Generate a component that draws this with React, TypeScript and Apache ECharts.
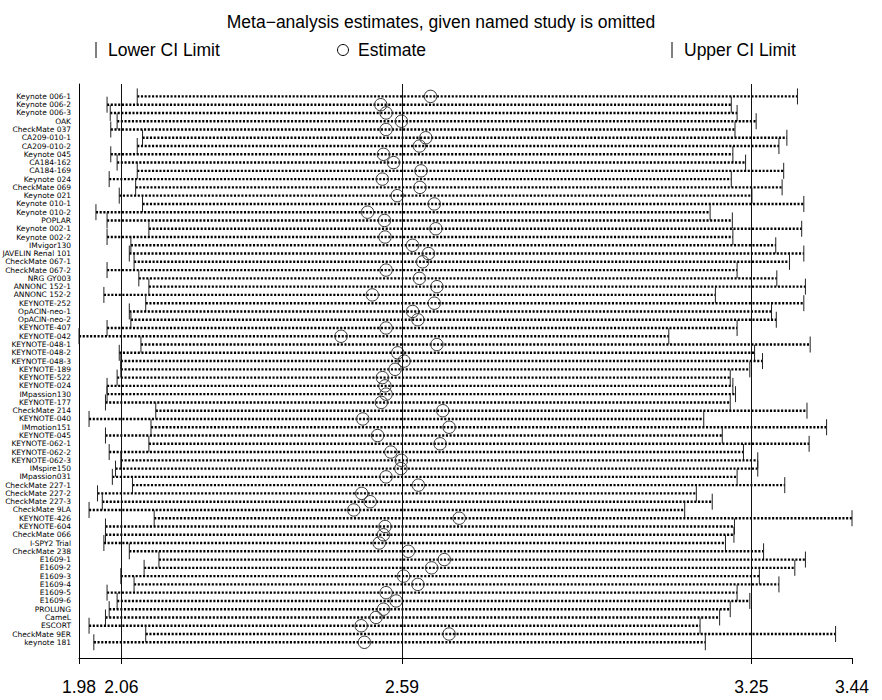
import React, { useEffect, useRef } from "react";
import * as echarts from "echarts";

const studies = [
  "Keynote 006-1", "Keynote 006-2", "Keynote 006-3", "OAK", "CheckMate 037",
  "CA209-010-1", "CA209-010-2", "Keynote 045", "CA184-162", "CA184-169",
  "Keynote 024", "CheckMate 069", "Keynote 021", "Keynote 010-1", "Keynote 010-2",
  "POPLAR", "Keynote 002-1", "Keynote 002-2", "IMvigor130", "JAVELIN Renal 101",
  "CheckMate 067-1", "CheckMate 067-2", "NRG GY003", "ANNONC 152-1", "ANNONC 152-2",
  "KEYNOTE-252", "OpACIN-neo-1", "OpACIN-neo-2", "KEYNOTE-407", "KEYNOTE-042",
  "KEYNOTE-048-1", "KEYNOTE-048-2", "KEYNOTE-048-3", "KEYNOTE-189", "KEYNOTE-522",
  "KEYNOTE-024", "IMpassion130", "KEYNOTE-177", "CheckMate 214", "KEYNOTE-040",
  "IMmotion151", "KEYNOTE-045", "KEYNOTE-062-1", "KEYNOTE-062-2", "KEYNOTE-062-3",
  "IMspire150", "IMpassion031", "CheckMate 227-1", "CheckMate 227-2", "CheckMate 227-3",
  "CheckMate 9LA", "KEYNOTE-426", "KEYNOTE-604", "CheckMate 066", "I-SPY2 Trial",
  "CheckMate 238", "E1609-1", "E1609-2", "E1609-3", "E1609-4",
  "E1609-5", "E1609-6", "PROLUNG", "CameL", "ESCORT",
  "CheckMate 9ER", "keynote 181",
];

const lowerCI = [
  2.090, 2.033, 2.039, 2.052, 2.040, 2.100, 2.090, 2.040, 2.052, 2.090,
  2.037, 2.087, 2.056, 2.100, 2.012, 2.033, 2.112, 2.033, 2.078, 2.075,
  2.084, 2.033, 2.093, 2.112, 2.027, 2.106, 2.075, 2.078, 2.033, 1.980,
  2.097, 2.056, 2.059, 2.059, 2.052, 2.033, 2.033, 2.030, 2.125, 1.999,
  2.116, 2.030, 2.112, 2.037, 2.059, 2.049, 2.043, 2.081, 2.015, 2.024,
  1.999, 2.122, 2.030, 2.030, 2.027, 2.075, 2.131, 2.103, 2.059, 2.084,
  2.033, 2.052, 2.037, 2.030, 1.999, 2.106, 2.008,
];

const estimate = [
  2.644, 2.550, 2.560, 2.589, 2.560, 2.635, 2.623, 2.555, 2.574, 2.626,
  2.553, 2.624, 2.581, 2.651, 2.525, 2.557, 2.654, 2.558, 2.610, 2.640,
  2.629, 2.560, 2.623, 2.656, 2.534, 2.651, 2.610, 2.620, 2.560, 2.475,
  2.656, 2.582, 2.594, 2.577, 2.553, 2.558, 2.560, 2.551, 2.667, 2.516,
  2.679, 2.544, 2.662, 2.569, 2.589, 2.588, 2.560, 2.621, 2.514, 2.530,
  2.499, 2.698, 2.558, 2.555, 2.547, 2.602, 2.670, 2.646, 2.593, 2.620,
  2.560, 2.579, 2.555, 2.541, 2.513, 2.679, 2.519,
];

const upperCI = [
  3.337, 3.212, 3.223, 3.259, 3.219, 3.317, 3.302, 3.215, 3.239, 3.311,
  3.212, 3.308, 3.251, 3.349, 3.172, 3.214, 3.345, 3.215, 3.296, 3.349,
  3.322, 3.223, 3.298, 3.352, 3.182, 3.349, 3.288, 3.297, 3.223, 3.094,
  3.361, 3.256, 3.271, 3.247, 3.210, 3.215, 3.220, 3.210, 3.355, 3.160,
  3.392, 3.195, 3.359, 3.235, 3.262, 3.262, 3.223, 3.313, 3.146, 3.176,
  3.124, 3.440, 3.218, 3.217, 3.201, 3.273, 3.352, 3.332, 3.265, 3.302,
  3.223, 3.247, 3.210, 3.190, 3.153, 3.409, 3.163,
];

const overallLines = [2.06, 2.59, 3.25];
const xTickValues = [1.98, 2.06, 2.59, 3.25, 3.44];

const FONT = "Liberation Sans, Arial, Helvetica, sans-serif";
const LABEL_FONT = "DejaVu Sans, Liberation Sans, sans-serif";

export default function App() {
  const ref = useRef<HTMLDivElement>(null);

  useEffect(() => {
    const chart = echarts.init(ref.current as HTMLDivElement, null, { renderer: "svg" });
    const data = studies.map((s, i) => [i + 1, lowerCI[i], estimate[i], upperCI[i]]);
    const xMin = 1.98;
    const xMax = 3.44;

    chart.setOption({
      animation: false,
      backgroundColor: "#fff",
      title: {
        text: "Meta\u2212analysis estimates, given named study is omitted",
        left: "center",
        top: 8,
        textStyle: { fontFamily: FONT, fontSize: 17.5, fontWeight: "normal", color: "#000" },
      },
      graphic: [
        { type: "line", shape: { x1: 96, y1: 42, x2: 96, y2: 58 }, style: { stroke: "#000", lineWidth: 1 } },
        { type: "text", x: 108, y: 50, style: { text: "Lower CI Limit", fontFamily: FONT, fontSize: 17.5, fill: "#000", verticalAlign: "middle" } },
        { type: "circle", shape: { cx: 343, cy: 50, r: 5.5 }, style: { fill: "none", stroke: "#000", lineWidth: 1 } },
        { type: "text", x: 358, y: 50, style: { text: "Estimate", fontFamily: FONT, fontSize: 17.5, fill: "#000", verticalAlign: "middle" } },
        { type: "line", shape: { x1: 672, y1: 42, x2: 672, y2: 58 }, style: { stroke: "#000", lineWidth: 1 } },
        { type: "text", x: 684, y: 50, style: { text: "Upper CI Limit", fontFamily: FONT, fontSize: 17.5, fill: "#000", verticalAlign: "middle" } },
      ],
      grid: { left: 79, right: 30, top: 84, bottom: 42, containLabel: false },
      xAxis: {
        type: "value",
        min: xMin,
        max: xMax,
        position: "bottom",
        axisLine: { show: true, onZero: false, lineStyle: { color: "#000", width: 1 } },
        axisTick: { show: true, length: 6, lineStyle: { color: "#000" }, customValues: xTickValues },
        axisLabel: {
          show: true,
          customValues: xTickValues,
          formatter: (v: number) => v.toFixed(2),
          fontFamily: FONT,
          fontSize: 17.5,
          color: "#000",
          margin: 20,
          hideOverlap: false,
        },
        splitLine: { show: false },
      },
      yAxis: {
        type: "value",
        min: -0.5,
        max: 68.9,
        inverse: true,
        axisLine: { show: true, onZero: false, lineStyle: { color: "#000", width: 1 } },
        axisTick: { show: false },
        axisLabel: { show: false },
        splitLine: { show: false },
      },
      series: [
        {
          type: "custom",
          clip: false,
          data,
          encode: { x: [1, 2, 3], y: 0 },
          renderItem: (params: any, api: any) => {
            const i = api.value(0);
            const lo = api.coord([api.value(1), i]);
            const es = api.coord([api.value(2), i]);
            const up = api.coord([api.value(3), i]);
            const left = api.coord([xMin, i]);
            const name = studies[params.dataIndex];
            return {
              type: "group",
              children: [
                {
                  type: "line",
                  shape: { x1: lo[0], y1: lo[1], x2: up[0], y2: up[1] },
                  style: { stroke: "#000", lineWidth: 2.4, lineDash: [2.1, 1.6], lineCap: "butt", fill: null },
                },
                {
                  type: "line",
                  shape: { x1: lo[0], y1: lo[1] - 8, x2: lo[0], y2: lo[1] + 8 },
                  style: { stroke: "#222", lineWidth: 1 },
                },
                {
                  type: "line",
                  shape: { x1: up[0], y1: up[1] - 8, x2: up[0], y2: up[1] + 8 },
                  style: { stroke: "#222", lineWidth: 1 },
                },
                {
                  type: "circle",
                  shape: { cx: es[0], cy: es[1], r: 6.2 },
                  style: { fill: "none", stroke: "#333", lineWidth: 1 },
                },
                {
                  type: "text",
                  x: left[0] - 8,
                  y: left[1],
                  style: {
                    text: name,
                    align: "right",
                    verticalAlign: "middle",
                    fontFamily: LABEL_FONT,
                    fontSize: 7.5,
                    fill: "#000",
                  },
                },
              ],
            };
          },
          markLine: {
            silent: true,
            symbol: ["none", "none"],
            label: { show: false },
            lineStyle: { color: "#111", width: 1, type: "solid" },
            data: overallLines.map((v) => ({ xAxis: v })),
          },
        },
      ],
    });

    return () => chart.dispose();
  }, []);

  return (
    <div
      ref={ref}
      style={{ position: "absolute", left: 0, top: 0, width: 882, height: 700 }}
    />
  );
}
